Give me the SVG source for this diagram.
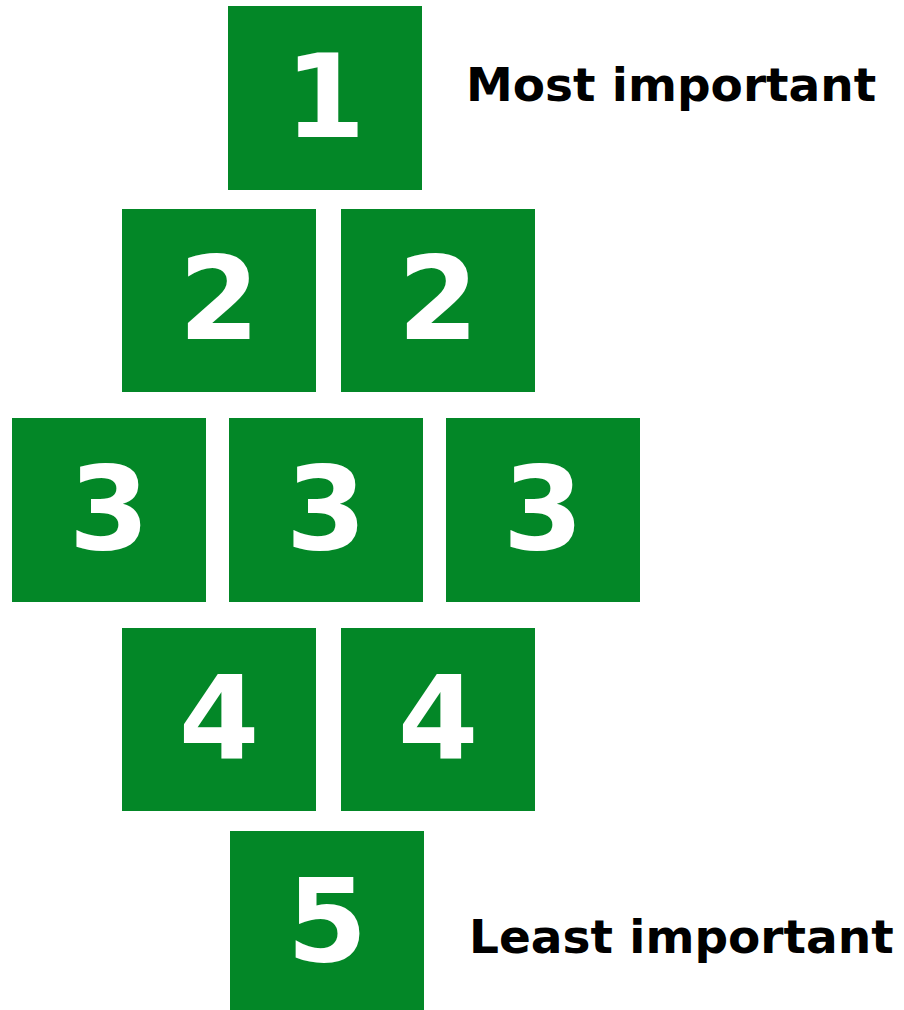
<svg xmlns="http://www.w3.org/2000/svg" width="904" height="1010" viewBox="0 0 904 1010">
<style>
.box{fill:#038727}
.num{fill:#fff;font-family:"DejaVu Sans",Verdana,sans-serif;font-weight:bold;font-size:116px;text-anchor:middle}
.lbl{fill:#000;font-family:"DejaVu Sans",Verdana,sans-serif;font-weight:bold;font-size:47px}
</style>
<rect width="904" height="1010" fill="#fff"/>
<g id="n1"><rect class="box" x="228" y="6" width="194" height="184"/><text class="num" x="325" y="137">1</text></g>
<g id="n2a"><rect class="box" x="122" y="209" width="194" height="183"/><text class="num" x="219" y="339">2</text></g>
<g id="n2b"><rect class="box" x="341" y="209" width="194" height="183"/><text class="num" x="438" y="339">2</text></g>
<g id="n3a"><rect class="box" x="12" y="418" width="194" height="184"/><text class="num" x="109" y="549">3</text></g>
<g id="n3b"><rect class="box" x="229" y="418" width="194" height="184"/><text class="num" x="326" y="549">3</text></g>
<g id="n3c"><rect class="box" x="446" y="418" width="194" height="184"/><text class="num" x="543" y="549">3</text></g>
<g id="n4a"><rect class="box" x="122" y="628" width="194" height="183"/><text class="num" x="219" y="758">4</text></g>
<g id="n4b"><rect class="box" x="341" y="628" width="194" height="183"/><text class="num" x="438" y="758">4</text></g>
<g id="n5"><rect class="box" x="230" y="831" width="194" height="179"/><text class="num" x="327" y="961">5</text></g>
<g id="labels">
<text class="lbl" x="466" y="101">Most important</text>
<text class="lbl" x="469" y="953">Least important</text>
</g>
<g id="connectors"/>
</svg>
